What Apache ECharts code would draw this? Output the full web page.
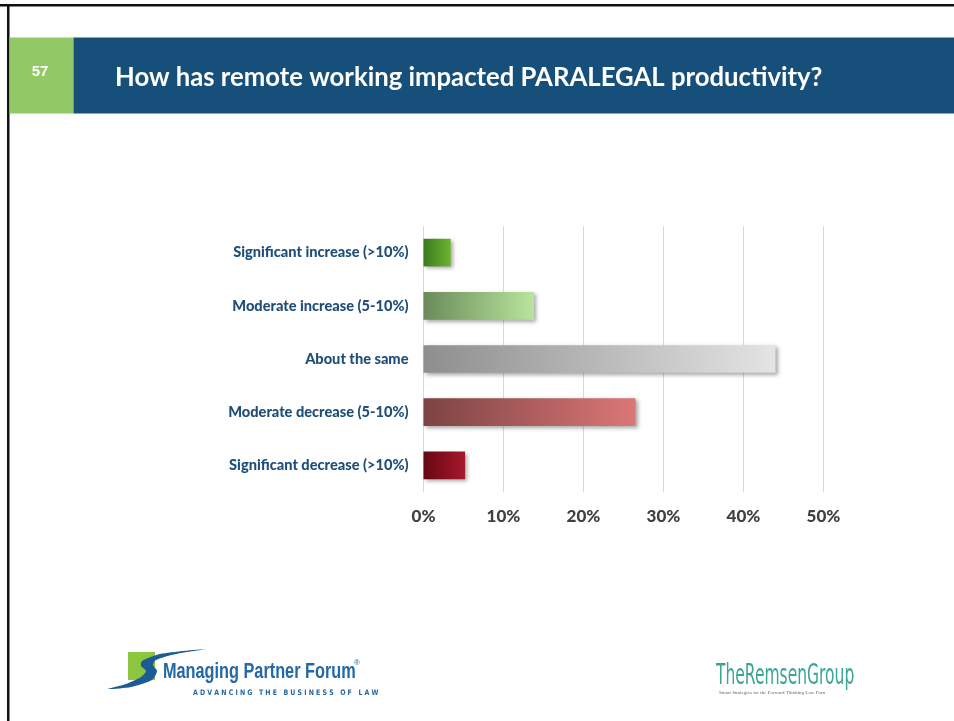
<!DOCTYPE html>
<html>
<head>
<meta charset="utf-8">
<script src="https://cdn.jsdelivr.net/npm/echarts@6/dist/echarts.min.js"></script>
<style>
  html, body { margin: 0; padding: 0; background: #ffffff; }
  #chart { width: 954px; height: 721px; }
</style>
</head>
<body>
<div id="chart"></div>
<script>
// Survey answers, top to bottom
const categories = [
  'Significant increase (>10%)',
  'Moderate increase (5-10%)',
  'About the same',
  'Moderate decrease (5-10%)',
  'Significant decrease (>10%)'
];
// Share of respondents, percent
const shares = [3.4, 13.8, 44.0, 26.5, 5.2];
// Gradient stops per bar (left colour, right colour)
const barStart = ['#3b7a1f', '#6b8b5a', '#8e8e8e', '#7d4343', '#650812'];
const barEnd   = ['#6cb52f', '#b8e59c', '#e4e4e4', '#db7777', '#a8182d'];
const xTicks = [0, 10, 20, 30, 40, 50];

const slideNumber = '57';
const slideTitle = 'How has remote working impacted PARALEGAL productivity?';

const chart = echarts.init(document.getElementById('chart'), null, { renderer: 'canvas' });

function grad(i) {
  return new echarts.graphic.LinearGradient(0, 0, 1, 0, [
    { offset: 0, color: barStart[i] },
    { offset: 1, color: barEnd[i] }
  ]);
}

// outline of the forum logo's swoosh
const swoosh = [
  [108, 689], [126, 684], [141, 677], [146, 671], [141, 666], [142, 661],
  [160, 654], [206, 649], [176, 654], [156, 660], [153, 665], [157, 671],
  [152, 680], [131, 687]
];

const option = {
  backgroundColor: '#ffffff',
  animation: false,
  grid: { left: 423.5, right: 130.5, top: 226, bottom: 229, containLabel: false },
  xAxis: {
    type: 'value',
    min: xTicks[0],
    max: xTicks[xTicks.length - 1],
    interval: 10,
    axisLine: { show: false },
    axisTick: { show: false },
    splitLine: { show: true, lineStyle: { color: '#d9d9d9', width: 1 } },
    axisLabel: {
      formatter: '{value}%',
      color: '#404040',
      fontFamily: 'Lato',
      fontWeight: 900,
      fontSize: 17,
      margin: 16
    }
  },
  yAxis: {
    type: 'category',
    data: categories,
    inverse: true,
    axisLine: { show: false },
    axisTick: { show: false },
    splitLine: { show: false },
    axisLabel: {
      color: '#1f4e79',
      fontFamily: 'Lato',
      fontWeight: 900,
      fontSize: 14.6,
      margin: 15
    }
  },
  series: [{
    type: 'bar',
    barWidth: '52%',
    data: shares.map((v, i) => ({
      value: v,
      itemStyle: {
        color: grad(i),
        shadowColor: 'rgba(0,0,0,0.35)',
        shadowBlur: 4,
        shadowOffsetX: 2,
        shadowOffsetY: 2
      }
    }))
  }],
  graphic: [
    // slide frame (top and left edges)
    { type: 'rect', shape: { x: 0, y: 4, width: 954, height: 2.5 }, style: { fill: '#111111' }, silent: true },
    { type: 'rect', shape: { x: 7, y: 4, width: 2.5, height: 717 }, style: { fill: '#111111' }, silent: true },
    // header band
    { type: 'rect', shape: { x: 9.5, y: 37.5, width: 64, height: 76 }, style: { fill: '#92c966' }, silent: true },
    { type: 'rect', shape: { x: 73.5, y: 37.5, width: 881, height: 76 }, style: { fill: '#174f7b' }, silent: true },
    {
      type: 'text', silent: true, x: 40, y: 72,
      style: {
        text: slideNumber, fill: '#ffffff', font: 'bold 15px "Liberation Sans", Arial, sans-serif',
        align: 'center', verticalAlign: 'middle'
      }
    },
    {
      type: 'text', silent: true, x: 115, y: 78,
      style: {
        text: slideTitle, fill: '#ffffff', font: 'bold 25.7px Lato, sans-serif',
        align: 'left', verticalAlign: 'middle'
      }
    },
    // Managing Partner Forum logo
    { type: 'rect', shape: { x: 128, y: 652, width: 27, height: 28 }, style: { fill: '#8cc63f' }, silent: true },
    {
      type: 'polygon', silent: true,
      shape: { points: swoosh, smooth: 0.25 },
      style: { fill: '#1d5b94' }
    },
    {
      type: 'text', silent: true, x: 163, y: 672, scaleX: 0.74,
      style: {
        text: 'Managing Partner Forum', fill: '#2468a6',
        font: 'bold 22px "Liberation Sans", sans-serif',
        align: 'left', verticalAlign: 'middle'
      }
    },
    {
      type: 'text', silent: true, x: 354, y: 663,
      style: { text: '®', fill: '#2468a6', font: '8px "Liberation Sans", sans-serif', align: 'left', verticalAlign: 'middle' }
    },
    {
      type: 'text', silent: true, x: 193, y: 693, scaleX: 0.82,
      style: {
        text: 'A D V A N C I N G   T H E   B U S I N E S S   O F   L A W', fill: '#2468a6',
        font: 'bold 7.6px "DejaVu Sans", sans-serif',
        align: 'left', verticalAlign: 'middle'
      }
    },
    // The Remsen Group logo
    {
      type: 'text', silent: true, x: 716, y: 676, scaleX: 0.535,
      style: {
        text: 'TheRemsenGroup', fill: '#3aa596',
        font: '29px "DejaVu Sans", sans-serif',
        align: 'left', verticalAlign: 'middle'
      }
    },
    {
      type: 'text', silent: true, x: 719, y: 693,
      style: {
        text: 'Smart Strategies for the Forward Thinking Law Firm', fill: '#666666',
        font: '5px "Liberation Serif", serif',
        align: 'left', verticalAlign: 'middle'
      }
    }
  ]
};

chart.setOption(option);
</script>
</body>
</html>
